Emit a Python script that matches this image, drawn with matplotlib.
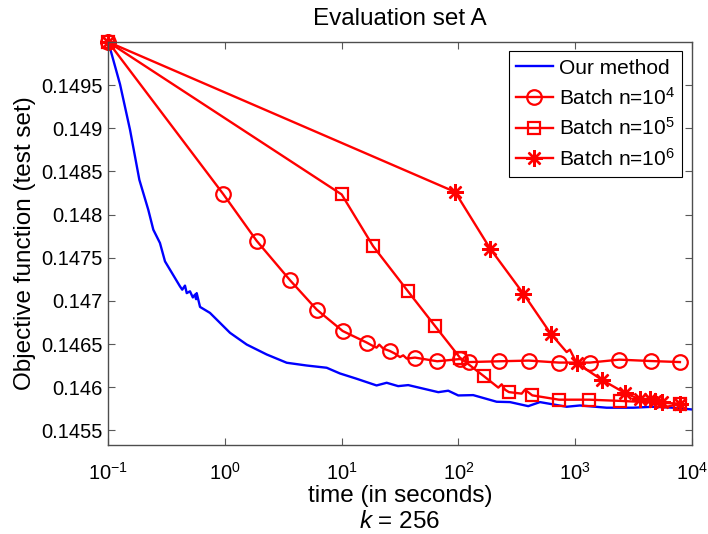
import matplotlib
matplotlib.use("Agg")
import matplotlib.pyplot as plt
from matplotlib.lines import Line2D

plt.rcParams['font.family'] = ['Liberation Sans', 'DejaVu Sans']
plt.rcParams['mathtext.fontset'] = 'custom'
plt.rcParams['mathtext.rm'] = 'Liberation Sans'
plt.rcParams['mathtext.it'] = 'Liberation Sans:italic'

# our method (blue)
t_ours = [0.1, 0.126, 0.1535, 0.1845, 0.22, 0.243, 0.277, 0.306, 0.411, 0.43,
          0.454, 0.47, 0.501, 0.53, 0.553, 0.565, 0.572, 0.611, 0.743, 1.104,
          1.535, 2.276, 3.38, 5.01, 7.44, 9.66, 13.4, 19.9, 24.3, 30.5,
          37.2, 67.3, 81.9, 99.8, 134, 213, 277, 397, 500, 847,
          1102, 1866, 3155, 4680, 6940, 10000]
obj_ours = [0.15, 0.14951, 0.148982, 0.148403, 0.148056, 0.147825, 0.147671, 0.147458, 0.147169, 0.14713,
            0.147177, 0.14709, 0.147111, 0.14704, 0.147073, 0.14702, 0.14709, 0.14693, 0.146861, 0.14663,
            0.146494, 0.146379, 0.146283, 0.146251, 0.146225, 0.146159, 0.146098, 0.14602, 0.146051, 0.146012,
            0.146024, 0.145942, 0.145959, 0.145904, 0.145908, 0.145831, 0.145827, 0.14578, 0.145827, 0.145773,
            0.145788, 0.145762, 0.145762, 0.145773, 0.145762, 0.145742]

# batch n=10^4 (circles)
t_b4 = [0.1, 0.967, 1.87, 3.61, 6.11, 10.2, 16.4, 18.1, 19.9, 21.0, 22.7, 25.9, 28.6,
        31.6, 33.7, 36.1, 42.5, 65.9, 103, 123, 223, 401, 728, 1342, 2392, 4446, 7925]
obj_b4 = [0.15, 0.148237, 0.147695, 0.147239, 0.146899, 0.146651, 0.146517, 0.146485, 0.146458,
          0.146493, 0.146447, 0.146419, 0.146389, 0.146349, 0.146369, 0.146331, 0.146343, 0.1463,
          0.146326, 0.146291, 0.1463, 0.146308, 0.146285, 0.146285, 0.146319, 0.146303, 0.146291]
mk_b4 = [0, 1, 2, 3, 4, 5, 6, 11, 16, 17, 18, 19, 20, 21, 22, 23, 24, 25, 26]

# batch n=10^5 (squares)
t_b5 = [0.1, 10.0, 18.6, 36.8, 63.1, 103, 166, 220, 235, 251, 271, 349, 372, 430,
        728, 1323, 2427, 7925]
obj_b5 = [0.15, 0.148233, 0.147634, 0.147115, 0.146709, 0.146343, 0.146126, 0.145995, 0.146033,
          0.145971, 0.145943, 0.145925, 0.145971, 0.145905, 0.145855, 0.145855, 0.145841, 0.145809]
mk_b5 = [0, 1, 2, 3, 4, 5, 6, 10, 13, 14, 15, 16, 17]

# batch n=10^6 (stars)
t_b6 = [0.1, 93.6, 187, 360, 618, 847, 904, 1032, 1690, 2678, 3600, 4385, 4840, 5523, 5600, 7925]
obj_b6 = [0.15, 0.148263, 0.147607, 0.147085, 0.146621, 0.146407, 0.146435, 0.14628, 0.146087,
          0.145932, 0.145859, 0.145867, 0.145839, 0.145827, 0.14576, 0.145809]
mk_b6 = [0, 1, 2, 3, 4, 7, 8, 9, 10, 11, 12, 13, 15]

yticks = [0.1455, 0.146, 0.1465, 0.147, 0.1475, 0.148, 0.1485, 0.149, 0.1495]
ytick_labels = ['0.1455', '0.146', '0.1465', '0.147', '0.1475', '0.148', '0.1485', '0.149', '0.1495']
xticks = [0.1, 1, 10, 100, 1000, 10000]
labels = ['Our method', 'Batch n=10$^4$', 'Batch n=10$^5$', 'Batch n=10$^6$']

fig = plt.figure(figsize=(7.08, 5.34), dpi=100)
ax = fig.add_axes([0.153, 0.1667, 0.824, 0.7546])

ax.plot(t_ours, obj_ours, color='b', lw=1.7, clip_on=False)
ax.plot(t_b4, obj_b4, color='r', lw=1.7, marker='o', ms=10.5, mfc='none', mew=1.6,
        markevery=mk_b4, clip_on=False)
ax.plot(t_b5, obj_b5, color='r', lw=1.7, marker='s', ms=9, mfc='none', mew=1.6,
        markevery=mk_b5, clip_on=False)
ax.plot(t_b6, obj_b6, color='r', lw=1.7, marker=(8, 2, 0), ms=12, mew=1.7,
        markevery=mk_b6, clip_on=False)

ax.set_xscale('log')
ax.set_xlim(0.1, 10000)
ax.set_ylim(0.14533, 0.15)
ax.set_xticks(xticks)
ax.minorticks_off()
ax.set_yticks(yticks)
ax.set_yticklabels(ytick_labels)
ax.tick_params(direction='in', length=5, width=0.8, top=True, right=True,
               labelsize=14.5, color='0.35')
ax.tick_params(axis='x', pad=12)
ax.tick_params(axis='y', pad=4)
for s in ax.spines.values():
    s.set_color('0.3')
    s.set_linewidth(1.0)

ax.set_title('Evaluation set A', fontsize=17.5, pad=12)
ax.set_xlabel('time (in seconds)', fontsize=17.5, labelpad=1)
ax.set_ylabel('Objective function (test set)', fontsize=17.5, labelpad=4)
fig.text(0.565, 0.022, '$k$ = 256', fontsize=17.5, ha='center', va='center')

handles = [
    Line2D([], [], color='b', lw=1.7),
    Line2D([], [], color='r', lw=1.7, marker='o', ms=10.5, mfc='none', mew=1.6),
    Line2D([], [], color='r', lw=1.7, marker='s', ms=9, mfc='none', mew=1.6),
    Line2D([], [], color='r', lw=1.7, marker=(8, 2, 0), ms=12, mew=1.7),
]
leg = ax.legend(handles, labels, loc='upper right', fontsize=15, handlelength=1.75,
                handletextpad=0.3, labelspacing=0.42, borderpad=0.35,
                borderaxespad=0.45, fancybox=False, framealpha=1)
leg.get_frame().set_edgecolor('k')
leg.get_frame().set_linewidth(0.8)

fig.savefig('out.png', dpi=100)
